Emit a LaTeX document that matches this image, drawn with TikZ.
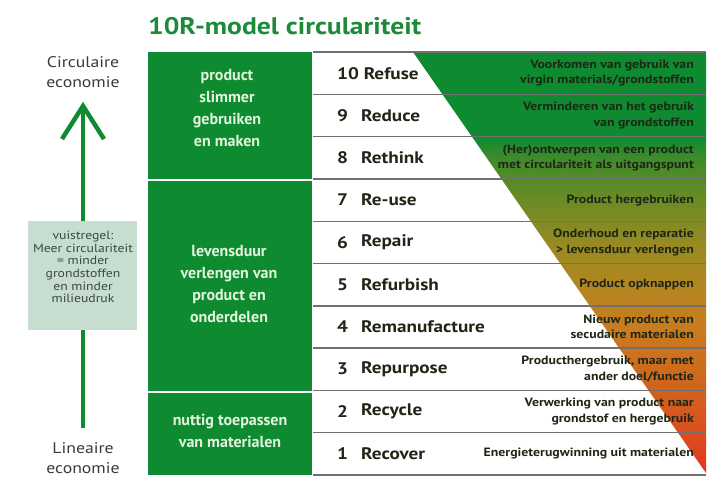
\documentclass[tikz,border=0pt]{standalone}
\usepackage{fontspec}
\setmainfont{PT Sans}[FakeStretch=1.15]
\newfontfamily\plainfont{PT Sans}
\usetikzlibrary{arrows.meta}
\definecolor{tgreen}{HTML}{0E8B30}
\definecolor{titlegreen}{HTML}{1C8A38}
\definecolor{gtext}{HTML}{E2F5DC}
\definecolor{boxfill}{HTML}{C6DDD0}
\definecolor{boxtext}{HTML}{3A4A3F}
\definecolor{greytext}{HTML}{3A3A3A}
\definecolor{desctext}{HTML}{1E2616}
\definecolor{linegrey}{HTML}{707070}
\pgfdeclareverticalshading{tenr}{100bp}{%
  color(0bp)=(rgb,255:red,228;green,49;blue,31);
  color(25bp)=(rgb,255:red,228;green,49;blue,31);
  color(27.26bp)=(rgb,255:red,224;green,66;blue,31);
  color(32.13bp)=(rgb,255:red,214;green,88;blue,30);
  color(37.11bp)=(rgb,255:red,207;green,106;blue,29);
  color(42.22bp)=(rgb,255:red,201;green,124;blue,30);
  color(47.21bp)=(rgb,255:red,179;green,134;blue,31);
  color(52.32bp)=(rgb,255:red,151;green,138;blue,34);
  color(57.30bp)=(rgb,255:red,108;green,139;blue,37);
  color(62.41bp)=(rgb,255:red,62;green,139;blue,43);
  color(64.90bp)=(rgb,255:red,14;green,139;blue,48);
  color(75bp)=(rgb,255:red,14;green,139;blue,48);
  color(100bp)=(rgb,255:red,14;green,139;blue,48)}
\begin{document}
\begin{tikzpicture}[x=1pt,y=-1pt,
  greenbox/.style={fill=tgreen, draw=none, inner sep=0pt, minimum width=164pt, anchor=north west},
  grouptext/.style={text=gtext, font=\plainfont\bfseries\fontsize{16}{22}\selectfont, align=center, inner sep=0pt},
  numtext/.style={text=desctext, font=\bfseries\fontsize{16.7}{19}\selectfont, anchor=west, inner sep=0pt},
  desc/.style={text=desctext, font=\bfseries\fontsize{12}{15.5}\selectfont, align=right, anchor=east, inner sep=0pt},
  sidetext/.style={text=greytext, font=\fontsize{15.4}{20}\selectfont, align=center, inner sep=0pt},
  rowline/.style={draw=linegrey, line width=1.4pt},
  arrowline/.style={draw=tgreen, line width=4.5pt},
]
\useasboundingbox (0,0) rectangle (715,483);

% title
\node[anchor=base west, inner sep=0pt, text=titlegreen, font=\bfseries\fontsize{24}{28}\selectfont] (title) at (148,34) {10R-model circulariteit};

% coloured triangle
\shade[shading=tenr] (413,52) -- (706,52) -- (706,473) -- cycle;

% row lines
\foreach \k in {0,...,10}{
  \pgfmathsetmacro{\yy}{52+\k*42.3}
  \draw[rowline] (313,\yy) -- (706,\yy);
}

% green group boxes
\node[greenbox, minimum height=126.5pt] (g1) at (148,52) {};
\node[greenbox, minimum height=210pt] (g2) at (148,180.5) {};
\node[greenbox, minimum height=82pt] (g3) at (148,393) {};
\node[grouptext] (t1) at (227,108) {product\\slimmer\\gebruiken\\en maken};
\node[grouptext] (t2) at (229,284) {levensduur\\verlengen van\\product en\\onderdelen};
\node[grouptext] (t3) at (230,431) {nuttig toepassen\\van materialen};

% rows
\foreach \n/\lab/\d in {
  10/Refuse/{Voorkomen van gebruik van\\virgin materials/grondstoffen},
  9/Reduce/{Verminderen van het gebruik\\van grondstoffen},
  8/Rethink/{(Her)ontwerpen van een product\\met circulariteit als uitgangspunt},
  7/Re-use/{Product hergebruiken},
  6/Repair/{Onderhoud en reparatie\\> levensduur verlengen},
  5/Refurbish/{Product opknappen},
  4/Remanufacture/{Nieuw product van\\secudaire materialen},
  3/Repurpose/{Producthergebruik, maar met\\ander doel/functie},
  2/Recycle/{Verwerking van product naar\\grondstof en hergebruik},
  1/Recover/{Energieterugwinning uit materialen}}{
  \pgfmathsetmacro{\yc}{52+(10-\n)*42.3+21.15}
  \ifnum\n=10
    \node[numtext] (n\n) at (337,\yc) {10 \lab};
  \else
    \node[numtext] (n\n) at (337,\yc) {\n};
    \node[numtext] (l\n) at (361,\yc) {\lab};
  \fi
  \node[desc] (d\n) at (694,\yc) {\d};
}

% left side
\node[sidetext] (circ) at (83,72) {Circulaire\\economie};
\node[sidetext] (lin) at (83,458) {Lineaire\\economie};
\coordinate (abot) at (83,428);
\coordinate (atip) at (83,106);
\coordinate (aleft) at (62,139);
\coordinate (aright) at (104,139);
\draw[arrowline] (abot) -- (atip);
\draw[arrowline, line join=miter] (aleft) -- (atip) -- (aright);
\node[fill=boxfill, minimum width=109pt, minimum height=109pt, inner sep=0pt] (rule) at (82.5,275.5) {};
\node[text=boxtext, font=\fontsize{11.9}{12.6}\selectfont, align=center, inner sep=0pt] (ruletext) at (83,267) {vuistregel:\\Meer circulariteit\\= minder\\grondstoffen\\en minder\\milieudruk};
\end{tikzpicture}
\end{document}
